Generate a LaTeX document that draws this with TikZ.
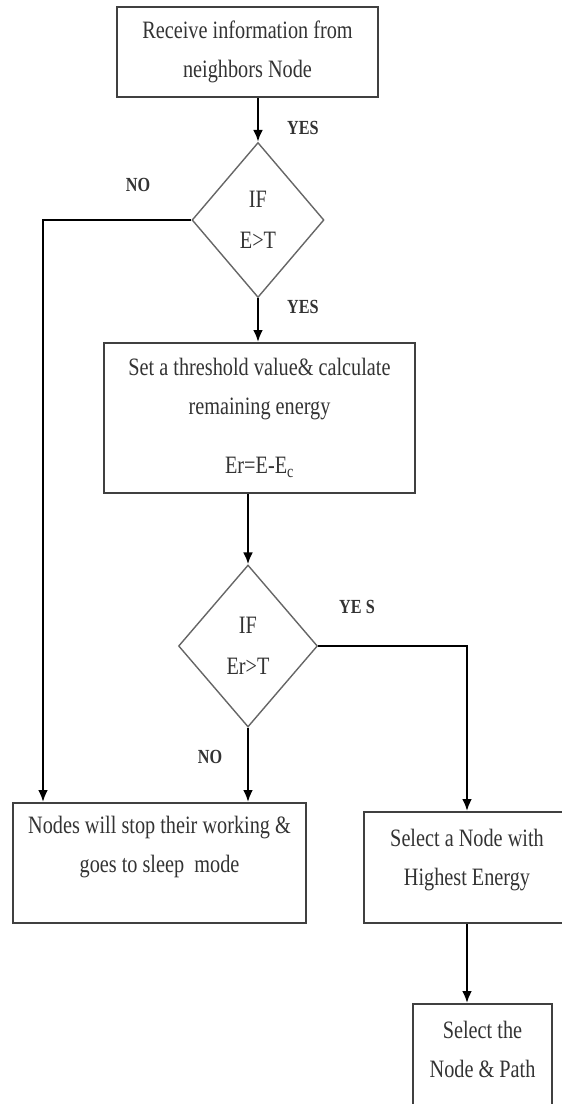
\documentclass[tikz,border=0pt]{standalone}
\usepackage{fontspec}
\setmainfont[FakeStretch=0.81]{Liberation Serif}
\usetikzlibrary{shapes.geometric,arrows.meta}

\tikzset{
  box/.style={draw=black!75, line width=2pt, rectangle},
  decision/.style={draw=black!60, line width=1.4pt, diamond, inner sep=0pt,
    align=center, font=\fontsize{25}{41}\selectfont, text=black!80},
  txt/.style={align=center, font=\fontsize{25}{39}\selectfont, text=black!80},
  arr/.style={line width=2.8pt, -{Latex[length=12pt,width=10pt]}},
  lbl/.style={font=\fontsize{20}{22}\selectfont\bfseries, text=black!80},
}

\begin{document}
\begin{tikzpicture}[x=1pt,y=-1pt]

    \useasboundingbox (0,0) rectangle (562,1104);

    % Draw the process boxes
    \node[box, minimum width=261pt, minimum height=90pt] (recv) at (247.5,52) {};
    \node[box, minimum width=311pt, minimum height=150pt] (thresh) at (259.5,418) {};
    \node[box, minimum width=293pt, minimum height=120pt] (sleep) at (159.5,863) {};
    \node[box, minimum width=206pt, minimum height=111pt] (select) at (467,867.5) {};
    \node[box, minimum width=139pt, minimum height=111pt] (path) at (482.5,1059.5) {};

    % Add the box texts
    \node[txt] (recvtxt) at (recv) {Receive information from\\neighbors Node};
    \node[txt] (threshtxt) at (thresh) {Set a threshold value\& calculate\\remaining energy\\[20pt]Er=E-E\textsubscript{c}};
    \node[txt, yshift=15.5pt] (sleeptxt) at (sleep) {Nodes will stop their working \&\\goes to sleep~ mode};
    \node[txt, yshift=7pt] (selecttxt) at (select) {Select a Node with\\Highest Energy};
    \node[txt, yshift=10.5pt] (pathtxt) at (path) {Select the\\Node \& Path};

    % Draw the decisions
    \node[decision, minimum width=132pt, minimum height=155pt] (chkE) at (258,220) {IF\\E>T};
    \node[decision, minimum width=139pt, minimum height=162pt] (chkEr) at (248,646) {IF\\Er>T};

    % Draw the arrows
    \draw[arr] (chkE.north |- recv.south) -- (chkE.north);
    \draw[arr] (chkE.south) -- (chkE.south |- thresh.north);
    \draw[arr] (chkEr.north |- thresh.south) -- (chkEr.north);
    \draw[arr] (chkEr.south) -- (chkEr.south |- sleep.north);
    \draw[arr] (chkEr.east) -| (select.north);
    \draw[arr] (select.south) -- (select.south |- path.north);

    % NO branch of the first test
    \coordinate (noturn) at (43,220);
    \draw[arr] (chkE.west) -- (noturn) -- (noturn |- sleep.north);

    % Add the YES / NO labels
    \node[lbl] (yesA) at (303,128) {YES};
    \node[lbl] (yesB) at (303,307) {YES};
    \node[lbl] (noA) at (138,185) {NO};
    \node[lbl] (yesC) at (357,607) {YE S};
    \node[lbl] (noB) at (210,757) {NO};

\end{tikzpicture}
\end{document}
